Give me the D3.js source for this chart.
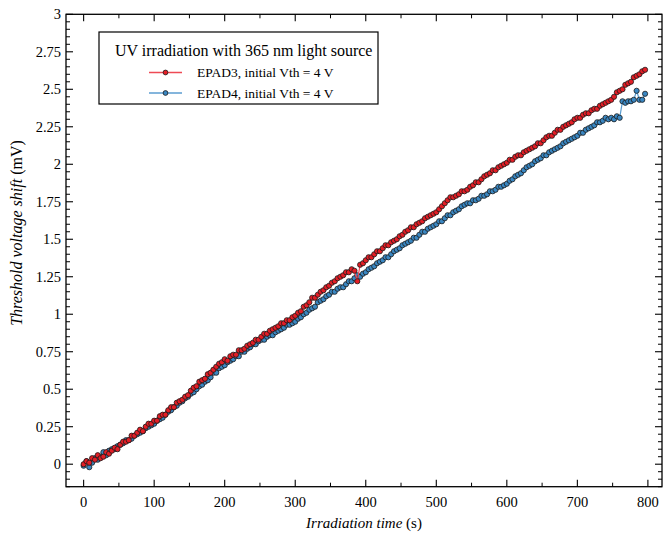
<!DOCTYPE html>
<html><head><meta charset="utf-8">
<script src="https://cdn.jsdelivr.net/npm/d3@7"></script>
<style>html,body{margin:0;padding:0;background:#fff;}svg{display:block;}</style>
</head><body>
<svg id="c" width="663" height="533"></svg>
<script>
const times = [0,4,8,12,16,20,24,28,32,36,40,44,48,52,56,60,64,68,72,76,80,84,88,92,96,
100,104,108,112,116,120,124,128,132,136,140,144,148,152,156,160,164,168,172,176,180,184,188,192,196,
200,204,208,212,216,220,224,228,232,236,240,244,248,252,256,260,264,268,272,276,280,284,288,292,296,
300,304,308,312,316,320,324,328,332,336,340,344,348,352,356,360,364,368,372,376,380,384,388,392,396,
400,404,408,412,416,420,424,428,432,436,440,444,448,452,456,460,464,468,472,476,480,484,488,492,496,
500,504,508,512,516,520,524,528,532,536,540,544,548,552,556,560,564,568,572,576,580,584,588,592,596,
600,604,608,612,616,620,624,628,632,636,640,644,648,652,656,660,664,668,672,676,680,684,688,692,696,
700,704,708,712,716,720,724,728,732,736,740,744,748,752,756,760,764,768,772,776,780,784,788,792,796];

const epad3 = [0.00,0.02,0.01,0.04,0.03,0.06,0.04,0.05,0.08,0.07,0.09,0.11,0.10,
0.13,0.15,0.15,0.16,0.19,0.19,0.21,0.23,0.22,0.25,0.27,0.27,
0.29,0.29,0.32,0.33,0.33,0.36,0.38,0.38,0.41,0.42,0.43,0.45,0.46,
0.49,0.51,0.52,0.55,0.56,0.57,0.60,0.61,0.63,0.65,0.67,0.68,
0.70,0.69,0.72,0.73,0.73,0.76,0.76,0.77,0.79,0.80,0.81,0.83,0.83,
0.85,0.87,0.87,0.89,0.90,0.91,0.92,0.94,0.94,0.96,0.96,0.98,
0.99,1.01,1.02,1.05,1.06,
1.08,1.11,1.11,1.13,1.15,1.16,1.18,1.19,
1.21,1.22,1.24,1.25,1.26,1.28,1.28,1.30,1.29,
1.22,
1.33,1.34,
1.36,1.38,1.38,1.40,1.42,1.42,1.44,1.46,1.46,1.48,1.49,1.50,1.52,
1.53,1.55,1.56,1.58,1.58,1.60,1.61,1.62,1.64,1.65,1.66,1.67,
1.68,1.70,1.72,1.74,1.76,
1.78,1.78,1.79,1.80,1.82,1.82,1.83,1.85,
1.86,1.88,1.88,1.90,1.92,1.93,1.94,1.96,1.96,1.98,1.99,2.00,
2.01,2.03,2.03,2.05,2.06,2.06,2.08,2.09,2.10,2.11,2.12,2.14,2.14,
2.16,2.18,2.19,2.19,2.21,2.23,2.23,2.25,2.26,2.27,2.28,2.30,
2.31,2.31,2.33,2.34,2.34,2.36,2.37,2.37,2.39,2.40,2.41,2.42,2.43,
2.45,2.48,2.49,2.50,2.53,2.54,2.55,2.58,2.59,2.60,2.62,2.63];

const epad4 = [-0.01,0.02,-0.02,0.01,0.04,0.03,0.05,0.08,0.06,0.09,0.10,0.10,0.12,
0.13,0.14,0.16,0.16,0.17,0.19,0.20,0.21,0.22,0.24,0.25,0.26,
0.27,0.29,0.30,0.31,0.33,0.35,0.36,0.38,0.39,0.41,0.42,0.44,0.45,
0.47,0.48,0.50,0.52,0.53,0.55,0.56,0.58,0.61,0.61,0.64,0.65,
0.66,0.68,0.69,0.70,0.72,0.72,0.75,0.75,0.77,0.78,0.80,0.80,0.82,
0.83,0.83,0.85,0.86,0.86,0.88,0.89,0.90,0.91,0.93,0.93,0.94,
0.95,0.97,0.98,1.00,1.01,1.03,1.04,1.05,1.08,1.09,1.10,1.12,1.13,
1.15,1.15,1.17,1.18,1.18,1.20,1.22,1.22,1.24,1.26,1.25,1.27,
1.28,1.30,1.31,1.32,1.34,1.35,1.36,1.38,1.38,1.40,1.42,1.43,1.44,
1.46,1.47,1.48,1.49,1.51,1.51,1.53,1.55,1.55,1.57,1.58,1.59,
1.60,1.62,1.62,1.64,1.66,1.66,1.68,1.69,1.70,1.72,1.73,1.74,1.74,
1.76,1.76,1.77,1.79,1.79,1.80,1.82,1.82,1.83,1.85,1.85,1.86,
1.87,1.89,1.90,1.92,1.93,1.94,1.96,1.98,1.99,2.00,2.02,2.03,2.04,
2.06,2.06,2.08,2.09,2.10,2.11,2.12,2.14,2.15,2.16,2.17,2.18,
2.19,2.21,2.21,2.23,2.24,2.25,2.26,2.28,2.28,2.29,2.31,2.30,
2.31,2.30,2.32,2.31,2.42,2.41,2.42,2.42,2.43,2.49,2.43,2.43,2.47];

const xTicks = [0,100,200,300,400,500,600,700,800];
const yTicks = [0,0.25,0.5,0.75,1,1.25,1.5,1.75,2,2.25,2.5,2.75,3];
const legendTitle = "UV irradiation with 365 nm light source";
const seriesNames = ["EPAD3, initial Vth = 4 V","EPAD4, initial Vth = 4 V"];

const svg = d3.select("#c");
const FONT = "'Liberation Serif','Times New Roman',serif";
const L = 66, R = 662, T = 14.3, B = 486.7;
const x = d3.scaleLinear().domain([-25, 820]).range([L, R]);
const y = d3.scaleLinear().domain([-0.15, 3]).range([B, T]);

const g = svg.append("g");

const series = [
  {name: seriesNames[1], vals: epad4, fill: "#3a87c2", line: "#5b9dd0"},
  {name: seriesNames[0], vals: epad3, fill: "#e31e26", line: "#ee4a55"}
];
const line = d3.line().x(d => x(d[0])).y(d => y(d[1]));
series.forEach(s => {
  const pts = times.map((t, i) => [t, s.vals[i]]);
  g.append("path").attr("d", line(pts)).attr("fill", "none")
    .attr("stroke", s.line).attr("stroke-width", 1.2);
  g.selectAll(null).data(pts).enter().append("circle")
    .attr("cx", d => x(d[0])).attr("cy", d => y(d[1])).attr("r", 2.6)
    .attr("fill", s.fill).attr("stroke", "#1a1a1a").attr("stroke-width", 0.8);
});

g.append("rect").attr("x", L).attr("y", T).attr("width", R - L).attr("height", B - T)
  .attr("fill", "none").attr("stroke", "#000").attr("stroke-width", 1.3);

const xMinor = d3.range(50, 800, 100);
xTicks.forEach(v => {
  g.append("line").attr("x1", x(v)).attr("x2", x(v)).attr("y1", B).attr("y2", B - 7).attr("stroke", "#000").attr("stroke-width", 1.1);
  g.append("line").attr("x1", x(v)).attr("x2", x(v)).attr("y1", T).attr("y2", T + 7).attr("stroke", "#000").attr("stroke-width", 1.1);
  g.append("text").attr("x", x(v)).attr("y", 506.5).attr("text-anchor", "middle")
    .attr("font-family", FONT).attr("font-size", 14.5).text(v);
});
xMinor.forEach(v => {
  g.append("line").attr("x1", x(v)).attr("x2", x(v)).attr("y1", B).attr("y2", B - 4).attr("stroke", "#000").attr("stroke-width", 1);
  g.append("line").attr("x1", x(v)).attr("x2", x(v)).attr("y1", T).attr("y2", T + 4).attr("stroke", "#000").attr("stroke-width", 1);
});
const yMinor = d3.range(-0.15, 3.001, 0.05).filter(v => Math.abs((v / 0.25) - Math.round(v / 0.25)) > 0.01);
yTicks.forEach(v => {
  g.append("line").attr("x1", L).attr("x2", L + 7).attr("y1", y(v)).attr("y2", y(v)).attr("stroke", "#000").attr("stroke-width", 1.1);
  g.append("line").attr("x1", R).attr("x2", R - 7).attr("y1", y(v)).attr("y2", y(v)).attr("stroke", "#000").attr("stroke-width", 1.1);
  g.append("text").attr("x", 61).attr("y", y(v) + 5).attr("text-anchor", "end")
    .attr("font-family", FONT).attr("font-size", 14.5).text(d3.format("")(v));
});
yMinor.forEach(v => {
  g.append("line").attr("x1", L).attr("x2", L + 4).attr("y1", y(v)).attr("y2", y(v)).attr("stroke", "#000").attr("stroke-width", 1);
  g.append("line").attr("x1", R).attr("x2", R - 4).attr("y1", y(v)).attr("y2", y(v)).attr("stroke", "#000").attr("stroke-width", 1);
});

const xt = g.append("text").attr("x", 364).attr("y", 528).attr("text-anchor", "middle")
  .attr("font-family", FONT).attr("font-size", 15);
xt.append("tspan").attr("font-style", "italic").text("Irradiation time");
xt.append("tspan").text(" (s)");
const yt = g.append("text").attr("transform", "translate(22,233) rotate(-90)").attr("text-anchor", "middle")
  .attr("font-family", FONT).attr("font-size", 16);
yt.append("tspan").attr("font-style", "italic").text("Threshold voltage shift");
yt.append("tspan").text(" (mV)");

const lg = g.append("g");
lg.append("rect").attr("x", 99).attr("y", 32).attr("width", 279).attr("height", 72)
  .attr("fill", "#fff").attr("stroke", "#000").attr("stroke-width", 1.2);
lg.append("text").attr("x", 115).attr("y", 55.5).attr("font-family", FONT).attr("font-size", 16).text(legendTitle);
[{n: seriesNames[0], fill: "#e31e26", line: "#ee4a55", yy: 72.5},
 {n: seriesNames[1], fill: "#3a87c2", line: "#5b9dd0", yy: 93}].forEach(e => {
  lg.append("line").attr("x1", 149).attr("x2", 182).attr("y1", e.yy).attr("y2", e.yy).attr("stroke", e.line).attr("stroke-width", 1.3);
  lg.append("circle").attr("cx", 165.5).attr("cy", e.yy).attr("r", 2.4).attr("fill", e.fill).attr("stroke", "#1a1a1a").attr("stroke-width", 0.8);
  lg.append("text").attr("x", 197).attr("y", e.yy + 4.5).attr("font-family", FONT).attr("font-size", 13.5).text(e.n);
});
</script>
</body></html>
